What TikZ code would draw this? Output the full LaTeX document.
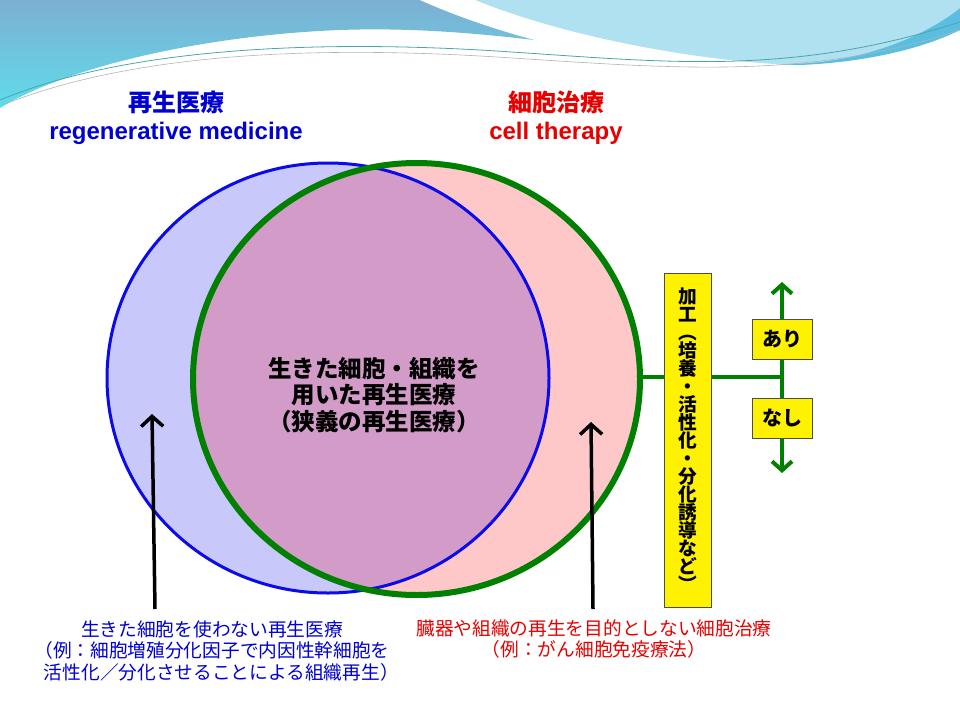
\documentclass[tikz,border=0pt]{standalone}
\usepackage{fontspec}
\setmainfont{Liberation Sans}
\newfontfamily\jp{Noto Sans CJK JP}
\usetikzlibrary{positioning,arrows.meta}

\definecolor{regblue}{RGB}{0,0,210}
\definecolor{cellred}{RGB}{230,0,0}
\definecolor{ringblue}{RGB}{10,10,235}
\definecolor{ringgreen}{RGB}{0,128,0}
\definecolor{bluefill}{RGB}{200,200,250}
\definecolor{pinkfill}{RGB}{255,200,200}
\definecolor{bothfill}{RGB}{210,155,200}
\definecolor{hdrtop}{RGB}{125,175,210}
\definecolor{hdrlow}{RGB}{95,220,235}
\definecolor{hdrpale}{RGB}{175,225,240}
\definecolor{hdrmid}{RGB}{90,190,225}

\begin{document}
\begin{tikzpicture}[x=1pt,y=-1pt]
		\tikzstyle{title}=[font=\bfseries\fontsize{24}{26}\selectfont, inner sep=0pt]
		\tikzstyle{note}=[font=\jp\fontsize{18.7}{21.5}\selectfont, align=center, inner sep=0pt]
		\tikzstyle{flag}=[rectangle, draw=black!70, fill=yellow, minimum width=60pt, minimum height=40pt, inner sep=0pt, font=\jp\bfseries\fontsize{20}{22}\selectfont]
		\tikzstyle{connect}=[-{Straight Barb[length=10pt,width=22pt]}, line width=3.5pt]
		\tikzstyle{branch}=[ringgreen, line width=4pt]
		\useasboundingbox (0,0) rectangle (960,720);
		%header waves
		\shade[top color=hdrtop, bottom color=hdrlow] (0,0) -- (960,0) -- (960,20) .. controls (900,55) and (820,70) .. (720,62) .. controls (600,52) and (480,25) .. (340,30) .. controls (210,35) and (70,65) .. (0,108) -- cycle;
		\fill[hdrmid] (700,40) .. controls (800,62) and (900,45) .. (960,10) -- (960,30) .. controls (900,60) and (800,72) .. (720,62) -- cycle;
		\fill[hdrpale] (470,0) .. controls (560,40) and (700,75) .. (820,62) .. controls (880,55) and (930,32) .. (960,8) -- (960,0) -- cycle;
		\fill[white] (420,0) .. controls (520,45) and (680,82) .. (820,66) .. controls (700,64) and (560,35) .. (475,0) -- cycle;
		\draw[teal!70!white, line width=0.8pt] (0,100) .. controls (120,50) and (300,40) .. (480,50) .. controls (650,60) and (780,80) .. (960,22);
		\draw[gray!60, line width=0.6pt] (5,104) .. controls (130,55) and (300,46) .. (480,56) .. controls (650,66) and (800,84) .. (960,30);
		
		\node[title, regblue] (regja) at (176,102) {\jp 再生医療};
		\node[title, regblue] (regen) [below=8pt of regja] {regenerative medicine};
		\node[title, cellred] (cellja) at (556,102) {\jp 細胞治療};
		\node[title, cellred] (cellen) [below=8pt of cellja] {cell therapy};
		
		%circles
		\coordinate (bc) at (328,378);
		\coordinate (gc) at (416.5,379);
		\fill[bluefill] (bc) ellipse [x radius=221pt, y radius=215pt];
		\fill[pinkfill] (gc) ellipse [x radius=223.5pt, y radius=216pt];
		\begin{scope}
			\clip (bc) ellipse [x radius=221pt, y radius=215pt];
			\fill[bothfill] (gc) ellipse [x radius=223.5pt, y radius=216pt];
		\end{scope}
		\draw[ringblue, line width=3pt] (bc) ellipse [x radius=221pt, y radius=215pt];
		\draw[ringgreen, line width=6pt] (gc) ellipse [x radius=223.5pt, y radius=216pt];
		
		\node[font=\jp\bfseries\fontsize{23.5}{26.5}\selectfont, align=center] (core) at (374,395) {生きた細胞・組織を\\用いた再生医療\\（狭義の再生医療）};
		
		\node[note, regblue] (nocell) at (212,651) {生きた細胞を使わない再生医療\\（例：細胞増殖分化因子で内因性幹細胞を\\　活性化／分化させることによる組織再生）};
		\node[note, cellred] (noregen) at (594,639) {臓器や組織の再生を目的としない細胞治療\\（例：がん細胞免疫療法）};
		
		\coordinate (nocellTail) at (155,609);
		\coordinate (nocellTip) at (152,414);
		\coordinate (noregenTail) at (593,609);
		\coordinate (noregenTip) at (591,422);
		\draw[connect] (nocellTail) -- (nocellTip);
		\draw[connect] (noregenTail) -- (noregenTip);
		
		%processing branch
		\coordinate (gEdge) at (640,377);
		\coordinate (fork) at (782,377);
		\coordinate (up) at (782,282);
		\coordinate (down) at (782,473);
		\draw[branch] (gEdge) -- (fork);
		\draw[branch, {Straight Barb[length=9pt,width=20pt]}-{Straight Barb[length=9pt,width=20pt]}] (up) -- (down);
		
		\node[rectangle, draw=black!70, fill=yellow, minimum width=47pt, minimum height=334pt, inner sep=0pt, align=center, font=\jp\bfseries\fontsize{18.7}{18}\selectfont] (proc) at (687.5,440) {加\\工\\︵\\培\\養\\・\\活\\性\\化\\・\\分\\化\\誘\\導\\な\\ど\\︶};
		
		\node[flag] (yes) at (782,339) {あり};
		\node[flag] (no) [below=39pt of yes] {なし};
	\end{tikzpicture}
\end{document}
